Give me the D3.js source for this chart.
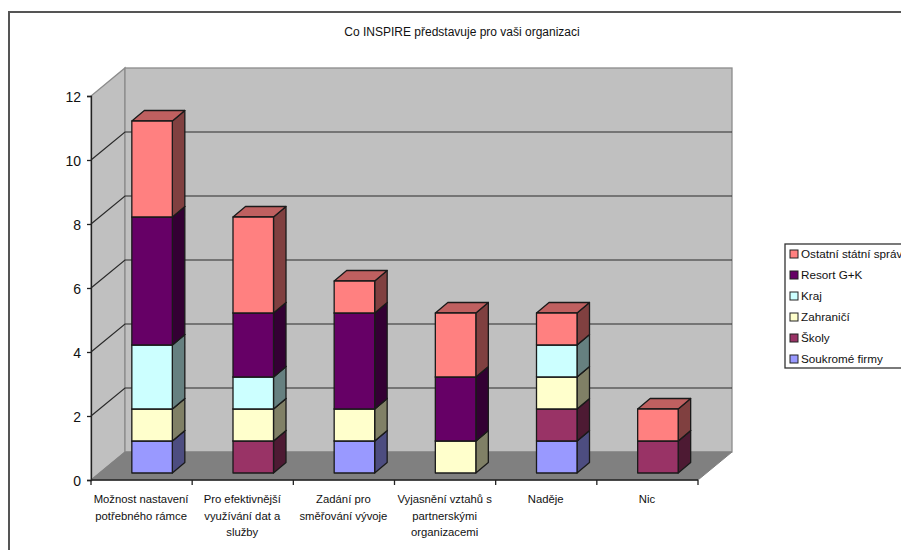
<!DOCTYPE html>
<html>
<head>
<meta charset="utf-8">
<script src="https://cdn.jsdelivr.net/npm/d3@7/dist/d3.min.js"></script>
<style>
  html, body { margin: 0; padding: 0; background: #fff; overflow: hidden; }
  text { font-family: "Liberation Sans", Arial, sans-serif; font-size: 11.3px; fill: #111; }
</style>
</head>
<body>
<svg id="chart" width="901" height="550"></svg>
<script>
var chartTitle = "Co INSPIRE představuje pro vaši organizaci";
var categories = [
  ["Možnost nastavení", "potřebného rámce"],
  ["Pro efektivnější", "využívání dat a", "služby"],
  ["Zadání pro", "směřování vývoje"],
  ["Vyjasnění vztahů s", "partnerskými", "organizacemi"],
  ["Naděje"],
  ["Nic"]
];
var seriesNames = ["Soukromé firmy", "Školy", "Zahraničí", "Kraj", "Resort G+K", "Ostatní státní správa"];
var soukrome = [1, 0, 1, 0, 1, 0];
var skoly = [0, 1, 0, 0, 1, 1];
var zahranici = [1, 1, 1, 1, 1, 0];
var kraj = [2, 1, 0, 0, 1, 0];
var resort = [4, 2, 3, 2, 0, 0];
var ostatni = [3, 3, 1, 2, 1, 1];
var seriesValues = [soukrome, skoly, zahranici, kraj, resort, ostatni];
var seriesColors = ["#9999ff", "#993366", "#ffffcc", "#ccffff", "#660066", "#ff8080"];
var yTicks = [0, 2, 4, 6, 8, 10, 12];

var svg = d3.select("#chart");
var stroke = "#1a1a1a";

// the 3d box: depth is how far the back wall is shifted from the front plane
var depthX = 34, depthY = 28;
var x = d3.scaleBand().domain(d3.range(categories.length)).range([91, 698]).paddingInner(0).paddingOuter(0);
var y = d3.scaleLinear().domain([0, 12]).range([480, 96]);

// outer frame, right side runs off the picture
svg.append("path")
  .attr("d", "M9,550V12H901")
  .attr("fill", "none")
  .attr("stroke", "#555")
  .attr("stroke-width", 2);

svg.append("text")
  .attr("x", 462).attr("y", 36)
  .attr("text-anchor", "middle")
  .style("font-size", "12px")
  .text(chartTitle);

var box = svg.append("g");
var x0 = x.range()[0], x1 = x.range()[1];

// left wall
box.append("path")
  .attr("d", d3.line()([[x0, y(0)], [x0, y(12)], [x0 + depthX, y(12) - depthY], [x0 + depthX, y(0) - depthY]]) + "Z")
  .attr("fill", "#c0c0c0").attr("stroke", "#8c8c8c").attr("stroke-width", 1.3);
// back wall
box.append("rect")
  .attr("x", x0 + depthX).attr("y", y(12) - depthY)
  .attr("width", x1 - x0).attr("height", y(0) - y(12))
  .attr("fill", "#c0c0c0").attr("stroke", "#8c8c8c").attr("stroke-width", 1.3);
// floor
box.append("path")
  .attr("d", d3.line()([[x0, y(0)], [x0 + depthX, y(0) - depthY], [x1 + depthX, y(0) - depthY], [x1, y(0)]]) + "Z")
  .attr("fill", "#808080").attr("stroke", "#808080");

// gridlines along left wall and back wall
var gridTicks = yTicks.filter(function(d) { return d > 0 && d < 12; });
box.selectAll(".grid").data(gridTicks).enter().append("path")
  .attr("class", "grid")
  .attr("fill", "none")
  .attr("stroke", "#2a2a2a")
  .attr("stroke-width", 1.2)
  .attr("d", function(d) {
    return d3.line()([[x0, y(d)], [x0 + depthX, y(d) - depthY], [x1 + depthX, y(d) - depthY]]);
  });

// axes
var yAxis = d3.axisLeft(y).tickValues(yTicks).tickSize(4).tickPadding(6);
var yG = svg.append("g").attr("transform", "translate(" + x0 + ",0)").call(yAxis);
yG.selectAll("text").style("font-size", "14px").attr("dy", "0.42em");
yG.selectAll("line, path").attr("stroke", "#222").attr("stroke-width", 1.3);

var xAxisLine = svg.append("g");
xAxisLine.append("line")
  .attr("x1", x0).attr("x2", x1).attr("y1", y(0)).attr("y2", y(0))
  .attr("stroke", "#222").attr("stroke-width", 1.3);
xAxisLine.selectAll(".xtick").data(d3.range(categories.length + 1)).enter().append("line")
  .attr("class", "xtick")
  .attr("x1", function(i) { return x0 + i * x.step(); })
  .attr("x2", function(i) { return x0 + i * x.step(); })
  .attr("y1", y(0)).attr("y2", y(0) + 5)
  .attr("stroke", "#222").attr("stroke-width", 1.3);

xAxisLine.selectAll(".xlab").data(categories).enter().append("text")
  .attr("class", "xlab")
  .attr("text-anchor", "middle")
  .attr("transform", function(d, i) { return "translate(" + (x(i) + x.bandwidth() / 2 - 0.5) + ",503)"; })
  .selectAll("tspan").data(function(d) { return d; }).enter().append("tspan")
  .attr("x", 0)
  .attr("y", function(d, i) { return i * 16.5; })
  .text(function(d) { return d; });

// stacked columns, bar sits a bit inside the depth of the box
var barW = 40.5, barDX = 12.5, barDY = 10.5, barInX = 10.5, barInY = 7;
var bars = svg.append("g");

function scaled(color, k) {
  var c = d3.rgb(color);
  return d3.rgb(c.r * k, c.g * k, c.b * k).formatHex();
}

categories.forEach(function(cat, i) {
  var left = x(i) + x.bandwidth() / 2 - barW / 2 + barInX;
  var total = 0;
  seriesValues.forEach(function(vals, s) {
    var v = vals[i];
    if (!v) return;
    var yBase = y(total) - barInY;
    var yTop = y(total + v) - barInY;
    total += v;
    var col = seriesColors[s];
    var g = bars.append("g")
      .attr("stroke", stroke)
      .attr("stroke-width", 1.3)
      .attr("stroke-linejoin", "round");
    g.append("path")
      .attr("d", d3.line()([[left + barW, yBase], [left + barW + barDX, yBase - barDY], [left + barW + barDX, yTop - barDY], [left + barW, yTop]]) + "Z")
      .attr("fill", scaled(col, 0.5));
    g.append("path")
      .attr("d", d3.line()([[left, yTop], [left + barDX, yTop - barDY], [left + barW + barDX, yTop - barDY], [left + barW, yTop]]) + "Z")
      .attr("fill", scaled(col, 0.75));
    g.append("rect")
      .attr("x", left).attr("y", yTop)
      .attr("width", barW).attr("height", yBase - yTop)
      .attr("fill", col);
  });
});

// legend, clipped by the picture edge like the source
var legend = svg.append("g").attr("transform", "translate(785,244)");
legend.append("rect")
  .attr("width", 130).attr("height", 124)
  .attr("fill", "#fff").attr("stroke", "#333").attr("stroke-width", 1.3);
var legendOrder = seriesNames.map(function(n, i) { return i; }).reverse();
var row = legend.selectAll(".row").data(legendOrder).enter().append("g")
  .attr("class", "row")
  .attr("transform", function(d, i) { return "translate(0," + (10 + i * 21) + ")"; });
row.append("rect")
  .attr("x", 5).attr("y", -4).attr("width", 8).attr("height", 8)
  .attr("fill", function(d) { return seriesColors[d]; })
  .attr("stroke", "#222");
row.append("text")
  .attr("x", 16).attr("y", 4)
  .style("font-size", "11.7px")
  .text(function(d) { return seriesNames[d]; });
</script>
</body>
</html>
